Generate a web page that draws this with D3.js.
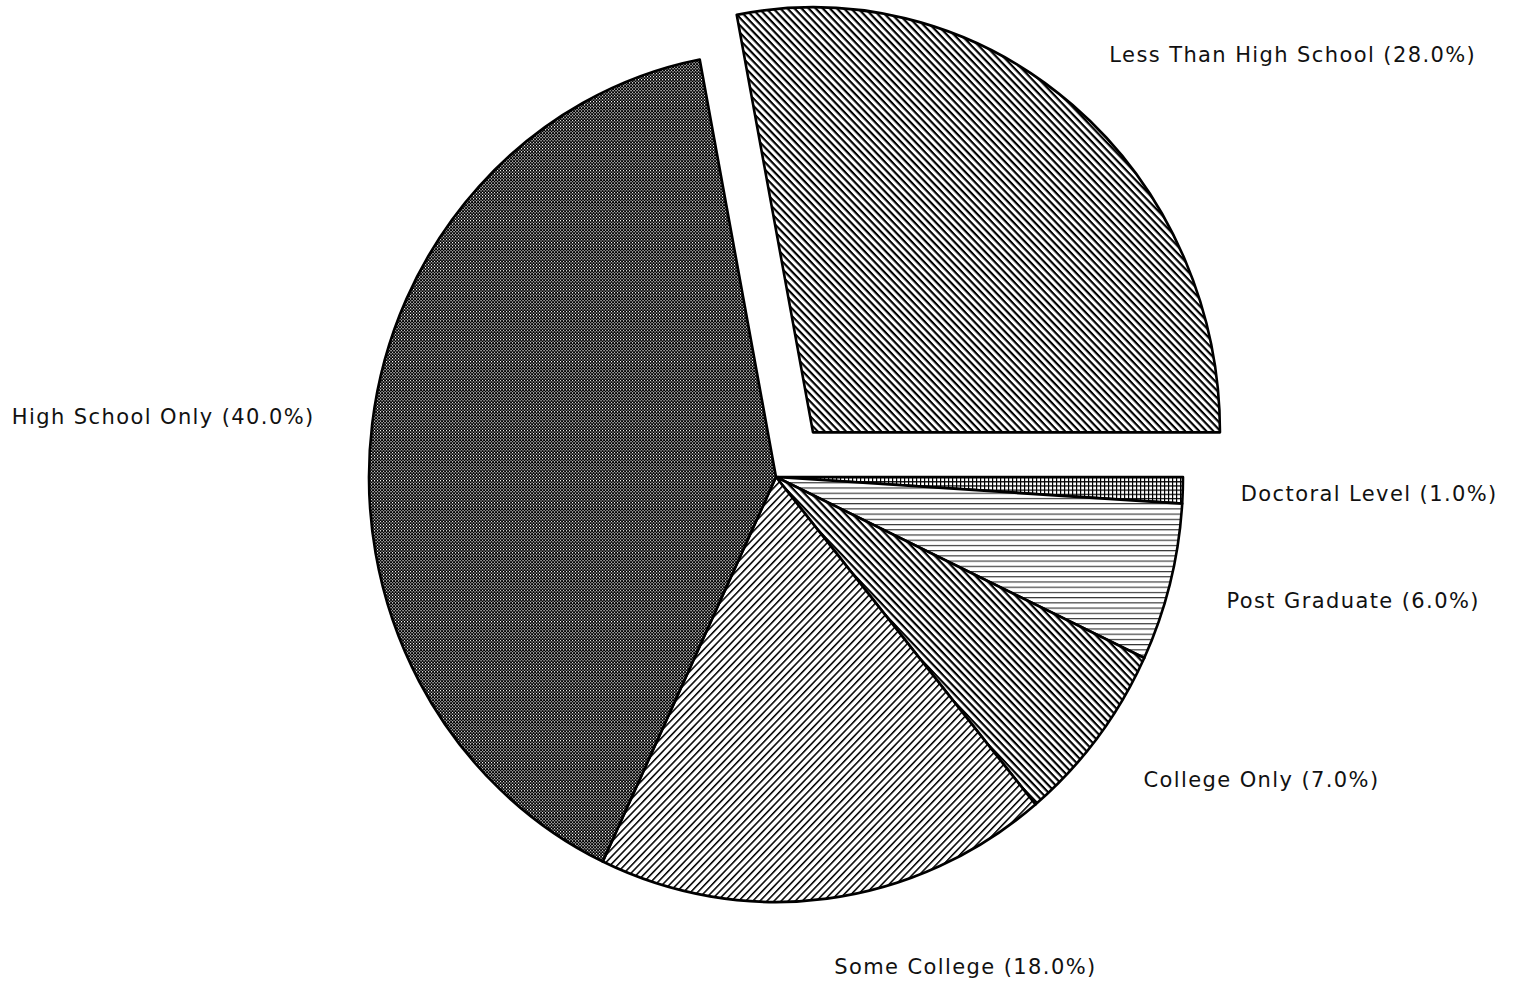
<!DOCTYPE html>
<meta charset="utf-8">
<html>
<head>
<script src="https://d3js.org/d3.v7.min.js"></script>
<style>
  body { margin: 0; background: #fff; }
  text { font-family: "DejaVu Sans", sans-serif; font-size: 21px; letter-spacing: 1.4px; fill: #111; }
</style>
</head>
<body>
<div id="chart"></div>
<script>
// data, read clockwise starting at 3 o'clock
var categories = ["Doctoral Level", "Post Graduate", "College Only", "Some College", "High School Only", "Less Than High School"];
var shares = [1.0, 6.0, 7.0, 18.0, 40.0, 28.0];
var exploded = ["Less Than High School"];
var patternIds = ["grid", "hlines", "diagB", "diagF", "checker", "diagB2"];

var width = 1515, height = 984;
var cx = 776, cy = 477;
var rx = 407, ry = 425;
var explode = 58;
var labelRx = 465, labelRy = 492;

var svg = d3.select("#chart").append("svg")
    .attr("width", width)
    .attr("height", height);

// fill patterns
var defs = svg.append("defs");

var p = defs.append("pattern").attr("id", "grid").attr("patternUnits", "userSpaceOnUse")
    .attr("width", 4).attr("height", 4);
p.append("rect").attr("width", 4).attr("height", 4).attr("fill", "#fff");
p.append("rect").attr("width", 4).attr("height", 1.2).attr("fill", "#000");
p.append("rect").attr("width", 1.2).attr("height", 4).attr("fill", "#000");

p = defs.append("pattern").attr("id", "hlines").attr("patternUnits", "userSpaceOnUse")
    .attr("width", 6).attr("height", 5);
p.append("rect").attr("width", 6).attr("height", 5).attr("fill", "#fff");
p.append("rect").attr("width", 6).attr("height", 1.1).attr("fill", "#333");

p = defs.append("pattern").attr("id", "diagB").attr("patternUnits", "userSpaceOnUse")
    .attr("width", 5).attr("height", 5).attr("patternTransform", "rotate(45)");
p.append("rect").attr("width", 5).attr("height", 5).attr("fill", "#fff");
p.append("rect").attr("width", 5).attr("height", 2.1).attr("fill", "#000");

p = defs.append("pattern").attr("id", "diagB2").attr("patternUnits", "userSpaceOnUse")
    .attr("width", 5).attr("height", 5).attr("patternTransform", "rotate(45)");
p.append("rect").attr("width", 5).attr("height", 5).attr("fill", "#fff");
p.append("rect").attr("width", 5).attr("height", 2.1).attr("fill", "#000");

p = defs.append("pattern").attr("id", "diagF").attr("patternUnits", "userSpaceOnUse")
    .attr("width", 5).attr("height", 5).attr("patternTransform", "rotate(-45)");
p.append("rect").attr("width", 5).attr("height", 5).attr("fill", "#fff");
p.append("rect").attr("width", 5).attr("height", 1.5).attr("fill", "#000");

p = defs.append("pattern").attr("id", "checker").attr("patternUnits", "userSpaceOnUse")
    .attr("width", 3).attr("height", 3);
p.append("rect").attr("width", 3).attr("height", 3).attr("fill", "#000");
p.append("rect").attr("width", 1.1).attr("height", 1.1).attr("fill", "#fff");
p.append("rect").attr("x", 1.5).attr("y", 1.5).attr("width", 1.1).attr("height", 1.1).attr("fill", "#fff");

var data = categories.map(function (c, i) {
    return { name: c, value: shares[i], pattern: patternIds[i] };
});

var pie = d3.pie()
    .sort(null)
    .value(function (d) { return d.value; })
    .startAngle(Math.PI / 2)
    .endAngle(Math.PI / 2 + 2 * Math.PI);

var arc = d3.arc().innerRadius(0).outerRadius(rx);

var arcs = pie(data);

function offsetOf(d) {
    if (exploded.indexOf(d.data.name) < 0) return [0, 0];
    var a = (d.startAngle + d.endAngle) / 2;
    return [explode * Math.sin(a), -explode * Math.cos(a)];
}

// slices: arcs drawn round, then stretched a bit vertically
var pieG = svg.append("g")
    .attr("transform", "translate(" + cx + "," + cy + ")");

pieG.selectAll("path")
    .data(arcs)
    .enter()
    .append("path")
    .attr("transform", function (d) {
        var o = offsetOf(d);
        return "translate(" + o[0] + "," + o[1] + ") scale(1," + (ry / rx) + ")";
    })
    .attr("d", arc)
    .attr("fill", function (d) { return "url(#" + d.data.pattern + ")"; })
    .attr("stroke", "#000")
    .attr("stroke-width", 2.6)
    .attr("stroke-linejoin", "round");

// labels
svg.selectAll("text.lbl")
    .data(arcs)
    .enter()
    .append("text")
    .attr("class", "lbl")
    .attr("x", function (d) {
        var a = (d.startAngle + d.endAngle) / 2;
        return cx + offsetOf(d)[0] + labelRx * Math.sin(a);
    })
    .attr("y", function (d) {
        var a = (d.startAngle + d.endAngle) / 2;
        return cy + offsetOf(d)[1] - labelRy * Math.cos(a);
    })
    .attr("dy", "0.4em")
    .attr("text-anchor", function (d) {
        var a = (d.startAngle + d.endAngle) / 2;
        return Math.sin(a) >= 0 ? "start" : "end";
    })
    .text(function (d) { return d.data.name + " (" + d.data.value.toFixed(1) + "%)"; });
</script>
</body>
</html>
